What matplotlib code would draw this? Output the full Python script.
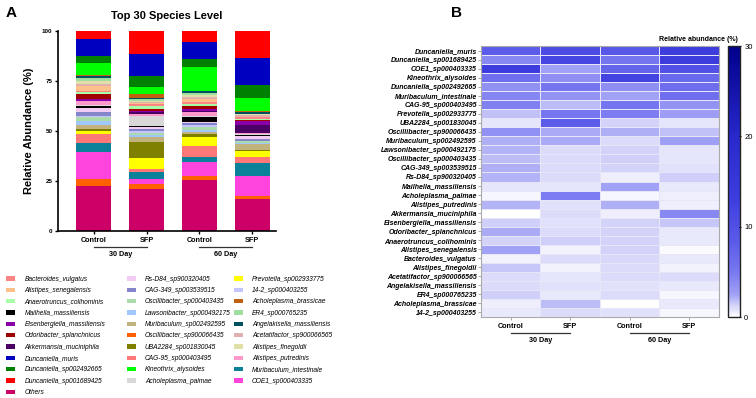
import matplotlib
matplotlib.use("Agg")
import matplotlib.pyplot as plt
import numpy as np
from matplotlib.patches import Patch
from matplotlib.colors import LinearSegmentedColormap
import matplotlib.transforms as mtransforms

plt.rcParams['font.family'] = ['Liberation Sans', 'DejaVu Sans']

groups = ['Control', 'SFP', 'Control', 'SFP']
days = ['30 Day', '60 Day']

# species in heatmap order (top to bottom)
species = ['Duncaniella_muris', 'Duncaniella_sp001689425', 'COE1_sp000403335', 'Kineothrix_alysoides',
           'Duncaniella_sp002492665', 'Muribaculum_intestinale', 'CAG-95_sp000403495', 'Prevotella_sp002933775',
           'UBA2284_sp001830045', 'Oscillibacter_sp900066435', 'Muribaculum_sp002492595', 'Lawsonibacter_sp000492175',
           'Oscillibacter_sp000403435', 'CAG-349_sp003539515', 'Rs-D84_sp900320405', 'Mailhella_massiliensis',
           'Acholeplasma_palmae', 'Alistipes_putredinis', 'Akkermansia_muciniphila', 'Eisenbergiella_massiliensis',
           'Odoribacter_splanchnicus', 'Anaerotruncus_colihominis', 'Alistipes_senegalensis', 'Bacteroides_vulgatus',
           'Alistipes_finegoldii', 'Acetatifactor_sp900066565', 'Angelakisella_massiliensis', 'ER4_sp000765235',
           'Acholeplasma_brassicae', '14-2_sp000403255']

control_30 = [8.3, 4.0, 13.5, 6.2, 3.5, 4.2, 4.5, 1.7, 0.8, 3.5, 2.2, 2.0, 1.8, 2.2, 2.0,
              0.8, 0.3, 2.0, 0.1, 1.3, 2.3, 1.2, 2.5, 0.4, 1.6, 1.0, 1.0, 1.3, 0.5, 0.7]
sfp_30 = [10.8, 11.7, 2.5, 3.7, 5.3, 3.3, 1.8, 5.2, 8.3, 2.3, 2.3, 1.0, 1.0, 1.0, 1.0,
          0.8, 4.7, 0.9, 1.0, 0.9, 1.0, 1.3, 0.4, 1.0, 0.4, 0.8, 0.9, 0.7, 1.8, 1.0]
control_60 = [8.8, 5.3, 7.2, 12.2, 3.7, 2.5, 5.3, 4.7, 1.2, 2.2, 1.0, 1.2, 1.3, 1.2, 0.5,
              2.5, 0.3, 2.2, 0.5, 1.2, 1.2, 1.2, 1.2, 1.1, 1.0, 1.0, 0.9, 1.0, 0.1, 0.9]
sfp_60 = [13.3, 13.7, 10.0, 6.7, 6.3, 6.2, 3.3, 2.8, 0.8, 1.7, 2.6, 0.8, 0.8, 0.9, 1.4,
          0.7, 0.5, 0.5, 4.0, 1.6, 0.7, 0.6, 0.2, 0.7, 0.4, 1.0, 0.6, 0.3, 0.7, 0.3]
others = [22.6, 21.2, 25.3, 15.9]

# legend order (column by column) and colours
legend_names = ['Bacteroides_vulgatus', 'Alistipes_senegalensis', 'Anaerotruncus_colihominis',
                'Mailhella_massiliensis', 'Eisenbergiella_massiliensis', 'Odoribacter_splanchnicus',
                'Akkermansia_muciniphila', 'Duncaniella_muris', 'Duncaniella_sp002492665',
                'Duncaniella_sp001689425', 'Others',
                'Rs-D84_sp900320405', 'CAG-349_sp003539515', 'Oscillibacter_sp000403435',
                'Lawsonibacter_sp000492175', 'Muribaculum_sp002492595', 'Oscillibacter_sp900066435',
                'UBA2284_sp001830045', 'CAG-95_sp000403495', 'Kineothrix_alysoides', 'Acholeplasma_palmae',
                'Prevotella_sp002933775', '14-2_sp000403255', 'Acholeplasma_brassicae', 'ER4_sp000765235',
                'Angelakisella_massiliensis', 'Acetatifactor_sp900066565', 'Alistipes_finegoldii',
                'Alistipes_putredinis', 'Muribaculum_intestinale', 'COE1_sp000403335']
legend_colors = ['#FF8585', '#FFC08A', '#A8FFA8', '#000000', '#8A00A8', '#A00000', '#4B0066',
                 '#0000C0', '#008000', '#FF0000', '#CC0066',
                 '#F2CCF2', '#8585CC', '#ABDBAB', '#A0C8FF', '#C2B27E', '#FF6000', '#808000',
                 '#FF7878', '#00FF00', '#D8D8D8',
                 '#FFFF00', '#C4C4FF', '#C06010', '#A0DDA0', '#005060', '#E0B0B0', '#E0E0A8',
                 '#FF99CC', '#0A8099', '#FF44DD']

# stacking order, bottom to top
stack_order = ['Others', 'Oscillibacter_sp900066435', 'COE1_sp000403335', 'Muribaculum_intestinale',
               'CAG-95_sp000403495', 'Prevotella_sp002933775', 'UBA2284_sp001830045', 'Muribaculum_sp002492595',
               'Lawsonibacter_sp000492175', 'Oscillibacter_sp000403435', '14-2_sp000403255', 'CAG-349_sp003539515',
               'Rs-D84_sp900320405', 'Mailhella_massiliensis', 'Acholeplasma_palmae', 'Alistipes_putredinis',
               'Akkermansia_muciniphila', 'Eisenbergiella_massiliensis', 'Odoribacter_splanchnicus',
               'Anaerotruncus_colihominis', 'Bacteroides_vulgatus', 'Alistipes_senegalensis',
               'Acetatifactor_sp900066565', 'Alistipes_finegoldii', 'ER4_sp000765235',
               'Angelakisella_massiliensis', 'Acholeplasma_brassicae', 'Kineothrix_alysoides',
               'Duncaniella_sp002492665', 'Duncaniella_muris', 'Duncaniella_sp001689425']

data = np.array([control_30, sfp_30, control_60, sfp_60]).T   # 30 x 4
color_of = dict(zip(legend_names, legend_colors))

fig = plt.figure(figsize=(7.56, 3.98), dpi=100)

# ---------------- panel A ----------------
ax = fig.add_axes([0.0767, 0.4196, 0.2884, 0.5025])
x = np.arange(len(groups))
bottom = np.zeros(len(groups))
for name in stack_order:
    if name == 'Others':
        vals = np.array(others)
    else:
        vals = data[species.index(name)]
    ax.bar(x, vals, 0.66, bottom=bottom, color=color_of[name], linewidth=0)
    bottom += vals

ax.set_ylim(0, 100)
ax.set_xlim(-0.68, 3.45)
ax.set_yticks([0, 25, 50, 75, 100])
ax.set_yticklabels(['0', '25', '50', '75', '100'], fontsize=4.5, fontweight='bold')
ax.set_xticks(x)
ax.set_xticklabels(groups, fontsize=5.2, fontweight='bold')
ax.tick_params(axis='both', length=2.5, width=1, pad=1.5)
for s in ['top', 'right']:
    ax.spines[s].set_visible(False)
for s in ['left', 'bottom']:
    ax.spines[s].set_linewidth(1.2)
ax.set_ylabel('Relative Abundance (%)', fontsize=8, fontweight='bold', labelpad=6)
ax.set_title('Top 30 Species Level', fontsize=8, fontweight='bold', pad=9)

trans = mtransforms.blended_transform_factory(ax.transData, ax.transAxes)
for i, d in enumerate(days):
    ax.plot([2 * i, 2 * i + 1], [-0.08, -0.08], color='#333333', lw=0.9, transform=trans, clip_on=False)
    ax.text(2 * i + 0.5, -0.12, d, ha='center', va='center', fontsize=5.2, fontweight='bold', transform=trans)

# legends, one per column
handles = [Patch(facecolor=c, edgecolor='none') for c in legend_colors]
cols = [(0, 11, 0.0085), (11, 21, 0.1675), (21, 31, 0.309)]
for a, b, xpos in cols:
    fig.legend(handles[a:b], legend_names[a:b], loc='upper left', bbox_to_anchor=(xpos, 0.307),
               frameon=False, ncol=1, prop={'size': 4.8, 'style': 'italic'},
               handlelength=1.35, handleheight=0.6, handletextpad=1.4, labelspacing=0.65,
               borderpad=0, borderaxespad=0)

fig.text(0.008, 0.985, 'A', fontsize=11, fontweight='bold', va='top')
fig.text(0.596, 0.985, 'B', fontsize=11, fontweight='bold', va='top')

# ---------------- panel B ----------------
cmap = LinearSegmentedColormap.from_list('abund', [
    (0.0, '#FFFFFF'), (1 / 30, '#DADAFA'), (2.5 / 30, '#A0A0F5'), (5 / 30, '#7878F0'),
    (8.5 / 30, '#5A5AE9'), (13 / 30, '#3E3EDF'), (20 / 30, '#2828CC'), (1.0, '#00008B')])

axh = fig.add_axes([0.6362, 0.2035, 0.3148, 0.6809])
mesh = axh.pcolormesh(data, cmap=cmap, vmin=0, vmax=30, edgecolors='#E6E6F8', linewidth=0.4)
axh.set_ylim(len(species), 0)
axh.set_xlim(0, 4)
axh.set_yticks(np.arange(len(species)) + 0.5)
axh.set_yticklabels(species, fontsize=5, fontweight='bold', style='italic')
axh.set_xticks(np.arange(4) + 0.5)
axh.set_xticklabels(groups, fontsize=5.2, fontweight='bold')
axh.tick_params(axis='both', length=2, width=0.6, color='#999999', pad=1)
axh.tick_params(axis='x', pad=2.5)
for s in axh.spines.values():
    s.set_color('#AAAAAA')
    s.set_linewidth(0.8)

transh = mtransforms.blended_transform_factory(axh.transData, axh.transAxes)
for i, d in enumerate(days):
    axh.plot([2 * i + 0.5, 2 * i + 1.5], [-0.058, -0.058], color='#333333', lw=0.9,
             transform=transh, clip_on=False)
    axh.text(2 * i + 1.0, -0.085, d, ha='center', va='center', fontsize=5.2, fontweight='bold',
             transform=transh)

cax = fig.add_axes([0.963, 0.2035, 0.0159, 0.6809])
cb = fig.colorbar(mesh, cax=cax, ticks=[0, 10, 20, 30])
cb.outline.set_linewidth(1.0)
cb.outline.set_edgecolor('#222222')
cax.tick_params(labelsize=5.5, length=2, width=0.8, direction='inout', pad=2)
fig.text(0.976, 0.893, 'Relative abundance (%)', ha='right', va='bottom', fontsize=5, fontweight='bold')

fig.savefig('out.png', dpi=100)
